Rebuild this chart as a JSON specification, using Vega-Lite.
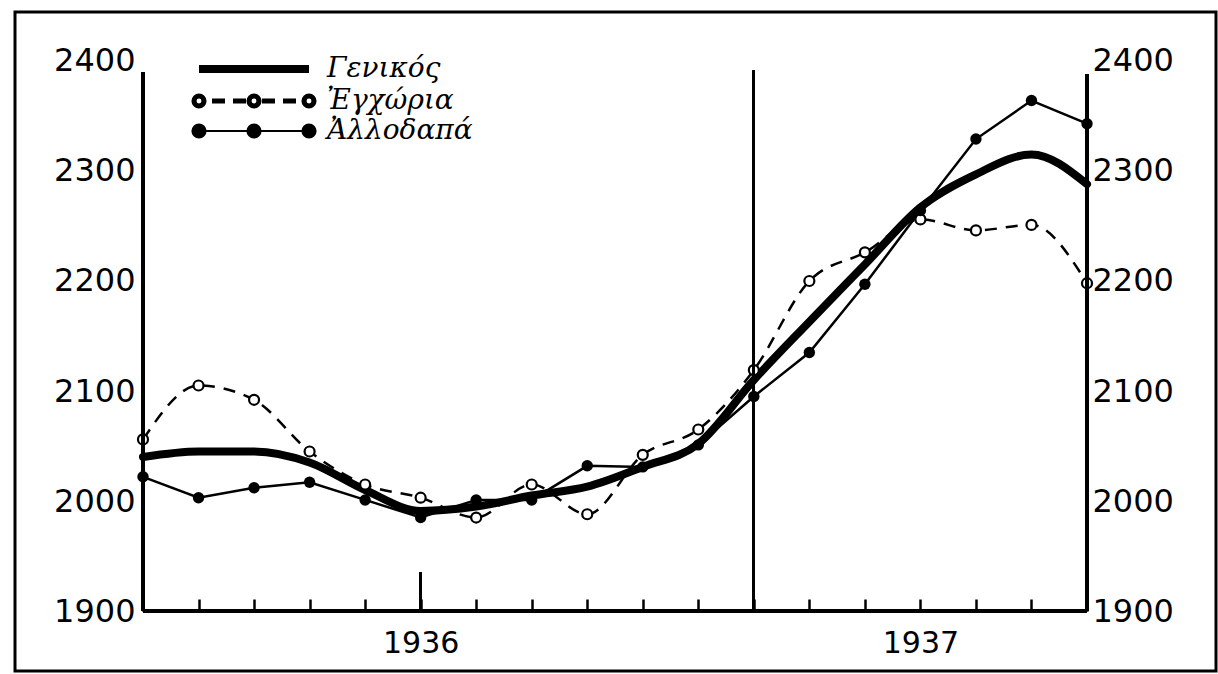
{
  "$schema": "https://vega.github.io/schema/vega-lite/v6.json",
  "width": 1201,
  "height": 659,
  "autosize": {"type": "none"},
  "padding": {"left": 15, "top": 12, "right": 2, "bottom": 3},
  "background": "white",
  "config": {"view": {"stroke": "black", "strokeWidth": 3}, "font": "DejaVu Sans"},
  "data": {
    "values": [
      {"i": 0, "s": "Γενικός", "v": 2040}, {"i": 1, "s": "Γενικός", "v": 2045}, {"i": 2, "s": "Γενικός", "v": 2045},
      {"i": 3, "s": "Γενικός", "v": 2035}, {"i": 4, "s": "Γενικός", "v": 2010}, {"i": 5, "s": "Γενικός", "v": 1991},
      {"i": 6, "s": "Γενικός", "v": 1995}, {"i": 7, "s": "Γενικός", "v": 2005}, {"i": 8, "s": "Γενικός", "v": 2013},
      {"i": 9, "s": "Γενικός", "v": 2031}, {"i": 10, "s": "Γενικός", "v": 2052}, {"i": 11, "s": "Γενικός", "v": 2110},
      {"i": 12, "s": "Γενικός", "v": 2163}, {"i": 13, "s": "Γενικός", "v": 2215}, {"i": 14, "s": "Γενικός", "v": 2267},
      {"i": 15, "s": "Γενικός", "v": 2297}, {"i": 16, "s": "Γενικός", "v": 2315}, {"i": 17, "s": "Γενικός", "v": 2288},
      {"i": 0, "s": "Ἐγχώρια", "v": 2056}, {"i": 1, "s": "Ἐγχώρια", "v": 2105}, {"i": 2, "s": "Ἐγχώρια", "v": 2092},
      {"i": 3, "s": "Ἐγχώρια", "v": 2045}, {"i": 4, "s": "Ἐγχώρια", "v": 2015}, {"i": 5, "s": "Ἐγχώρια", "v": 2003},
      {"i": 6, "s": "Ἐγχώρια", "v": 1985}, {"i": 7, "s": "Ἐγχώρια", "v": 2015}, {"i": 8, "s": "Ἐγχώρια", "v": 1988},
      {"i": 9, "s": "Ἐγχώρια", "v": 2042}, {"i": 10, "s": "Ἐγχώρια", "v": 2065}, {"i": 11, "s": "Ἐγχώρια", "v": 2119},
      {"i": 12, "s": "Ἐγχώρια", "v": 2200}, {"i": 13, "s": "Ἐγχώρια", "v": 2226}, {"i": 14, "s": "Ἐγχώρια", "v": 2256},
      {"i": 15, "s": "Ἐγχώρια", "v": 2246}, {"i": 16, "s": "Ἐγχώρια", "v": 2251}, {"i": 17, "s": "Ἐγχώρια", "v": 2198},
      {"i": 0, "s": "Ἀλλοδαπά", "v": 2022}, {"i": 1, "s": "Ἀλλοδαπά", "v": 2003}, {"i": 2, "s": "Ἀλλοδαπά", "v": 2012},
      {"i": 3, "s": "Ἀλλοδαπά", "v": 2017}, {"i": 4, "s": "Ἀλλοδαπά", "v": 2001}, {"i": 5, "s": "Ἀλλοδαπά", "v": 1985},
      {"i": 6, "s": "Ἀλλοδαπά", "v": 2001}, {"i": 7, "s": "Ἀλλοδαπά", "v": 2001}, {"i": 8, "s": "Ἀλλοδαπά", "v": 2032},
      {"i": 9, "s": "Ἀλλοδαπά", "v": 2031}, {"i": 10, "s": "Ἀλλοδαπά", "v": 2051}, {"i": 11, "s": "Ἀλλοδαπά", "v": 2095},
      {"i": 12, "s": "Ἀλλοδαπά", "v": 2135}, {"i": 13, "s": "Ἀλλοδαπά", "v": 2197}, {"i": 14, "s": "Ἀλλοδαπά", "v": 2264},
      {"i": 15, "s": "Ἀλλοδαπά", "v": 2329}, {"i": 16, "s": "Ἀλλοδαπά", "v": 2364}, {"i": 17, "s": "Ἀλλοδαπά", "v": 2343}
    ]
  },
  "resolve": {"axis": {"y": "independent", "x": "shared"}},
  "layer": [
    {
      "transform": [{"filter": "datum.s === 'Γενικός'"}],
      "mark": {"type": "line", "interpolate": "monotone", "color": "black", "strokeWidth": 8, "strokeCap": "round", "strokeJoin": "round"},
      "encoding": {
        "x": {
          "field": "i", "type": "quantitative",
          "scale": {"domain": [-2.305, 19.323], "nice": false, "zero": false},
          "axis": {
            "orient": "bottom", "offset": -60, "values": [0,1,2,3,4,5,6,7,8,9,10,11,12,13,14,15,16,17],
            "domain": false, "grid": false, "ticks": true, "tickSize": -12, "tickWidth": 2.5, "tickColor": "black",
            "labelExpr": "datum.value == 5 ? '1936' : datum.value == 14 ? '1937' : ''",
            "labelFont": "DejaVu Sans", "labelFontSize": 30, "labelColor": "black", "labelPadding": 29,
            "labelOverlap": false, "title": null
          }
        },
        "y": {
          "field": "v", "type": "quantitative",
          "scale": {"domain": [1845.5, 2444.5], "nice": false, "zero": false},
          "axis": {
            "orient": "left", "offset": -128, "values": [1900, 2000, 2100, 2200, 2300, 2400], "format": "d",
            "domain": false, "grid": false, "ticks": false,
            "labelFont": "DejaVu Sans", "labelFontSize": 32, "labelColor": "black", "labelPadding": 8,
            "labelOverlap": false, "title": null
          }
        }
      }
    },
    {
      "transform": [{"filter": "datum.s === 'Ἐγχώρια'"}],
      "mark": {"type": "line", "interpolate": "monotone", "color": "black", "strokeWidth": 2.5, "strokeDash": [12, 9]},
      "encoding": {
        "x": {"field": "i", "type": "quantitative"},
        "y": {"field": "v", "type": "quantitative", "axis": null}
      }
    },
    {
      "transform": [{"filter": "datum.s === 'Ἀλλοδαπά'"}],
      "mark": {"type": "line", "color": "black", "strokeWidth": 2.5},
      "encoding": {
        "x": {"field": "i", "type": "quantitative"},
        "y": {
          "field": "v", "type": "quantitative",
          "axis": {
            "orient": "right", "offset": -129, "values": [1900, 2000, 2100, 2200, 2300, 2400], "format": "d",
            "domain": false, "grid": false, "ticks": false,
            "labelFont": "DejaVu Sans", "labelFontSize": 32, "labelColor": "black", "labelPadding": 5,
            "labelOverlap": false, "title": null
          }
        }
      }
    },
    {
      "transform": [{"filter": "datum.s === 'Ἐγχώρια'"}],
      "mark": {"type": "point", "shape": "circle", "size": 100, "filled": true, "fill": "white", "stroke": "black", "strokeWidth": 2.2, "opacity": 1},
      "encoding": {
        "x": {"field": "i", "type": "quantitative"},
        "y": {"field": "v", "type": "quantitative", "axis": null}
      }
    },
    {
      "transform": [{"filter": "datum.s === 'Ἀλλοδαπά'"}],
      "mark": {"type": "point", "shape": "circle", "size": 130, "filled": true, "color": "black", "opacity": 1},
      "encoding": {
        "x": {"field": "i", "type": "quantitative"},
        "y": {"field": "v", "type": "quantitative", "axis": null}
      }
    },
    {
      "transform": [{"filter": "datum.i == 0"}],
      "mark": {"type": "point", "filled": true, "opacity": 0},
      "encoding": {
        "x": {"field": "i", "type": "quantitative"},
        "y": {"field": "v", "type": "quantitative", "axis": null},
        "shape": {
          "field": "s", "type": "nominal",
          "scale": {
            "domain": ["Γενικός", "Ἐγχώρια", "Ἀλλοδαπά"],
            "range": [
              "M-1,0L10,0",
              "M-0.5,0A0.5,0.5 0 1,1 -1.5,0A0.5,0.5 0 1,1 -0.5,0ZM0.3,0L1.6,0M2.4,0L3.7,0M5,0A0.5,0.5 0 1,1 4,0A0.5,0.5 0 1,1 5,0ZM5.3,0L6.6,0M7.4,0L8.7,0M10.5,0A0.5,0.5 0 1,1 9.5,0A0.5,0.5 0 1,1 10.5,0Z",
              "M-1,0L10,0M-0.35,0A0.65,0.65 0 1,1 -1.65,0A0.65,0.65 0 1,1 -0.35,0ZM5.15,0A0.65,0.65 0 1,1 3.85,0A0.65,0.65 0 1,1 5.15,0ZM10.65,0A0.65,0.65 0 1,1 9.35,0A0.65,0.65 0 1,1 10.65,0Z"
            ]
          },
          "legend": {
            "title": null, "orient": "none", "legendX": 180, "legendY": 43, "padding": 0, "rowPadding": 0,
            "symbolSize": 400, "symbolOffset": 0, "labelOffset": 104, "labelLimit": 400,
            "symbolOpacity": 1,
            "labelFont": "DejaVu Serif", "labelFontStyle": "italic", "labelFontSize": 28, "labelColor": "black"
          }
        },
        "fill": {
          "field": "s", "type": "nominal",
          "scale": {"domain": ["Γενικός", "Ἐγχώρια", "Ἀλλοδαπά"], "range": ["white", "white", "black"]}
        },
        "stroke": {
          "field": "s", "type": "nominal",
          "scale": {"domain": ["Γενικός", "Ἐγχώρια", "Ἀλλοδαπά"], "range": ["black", "black", "black"]}
        },
        "strokeWidth": {
          "field": "s", "type": "nominal",
          "scale": {"domain": ["Γενικός", "Ἐγχώρια", "Ἀλλοδαπά"], "range": [8, 2.2, 2.5]}
        }
      }
    },
    {
      "mark": {"type": "rule", "color": "black", "strokeWidth": 3.5},
      "encoding": {
        "x": {"datum": 0, "type": "quantitative"},
        "y": {"datum": 1900, "type": "quantitative", "axis": null},
        "y2": {"datum": 2390}
      }
    },
    {
      "mark": {"type": "rule", "color": "black", "strokeWidth": 3.5},
      "encoding": {
        "x": {"datum": 17, "type": "quantitative"},
        "y": {"datum": 1900, "type": "quantitative", "axis": null},
        "y2": {"datum": 2388}
      }
    },
    {
      "mark": {"type": "rule", "color": "black", "strokeWidth": 2},
      "encoding": {
        "x": {"datum": 11, "type": "quantitative"},
        "y": {"datum": 1900, "type": "quantitative", "axis": null},
        "y2": {"datum": 2391}
      }
    },
    {
      "mark": {"type": "rule", "color": "black", "strokeWidth": 2.5},
      "encoding": {
        "x": {"datum": 5, "type": "quantitative"},
        "y": {"datum": 1900, "type": "quantitative", "axis": null},
        "y2": {"datum": 1935}
      }
    },
    {
      "mark": {"type": "rule", "color": "black", "strokeWidth": 3},
      "encoding": {
        "x": {"datum": 0, "type": "quantitative"},
        "x2": {"datum": 17},
        "y": {"datum": 1900, "type": "quantitative", "axis": null}
      }
    }
  ]
}
